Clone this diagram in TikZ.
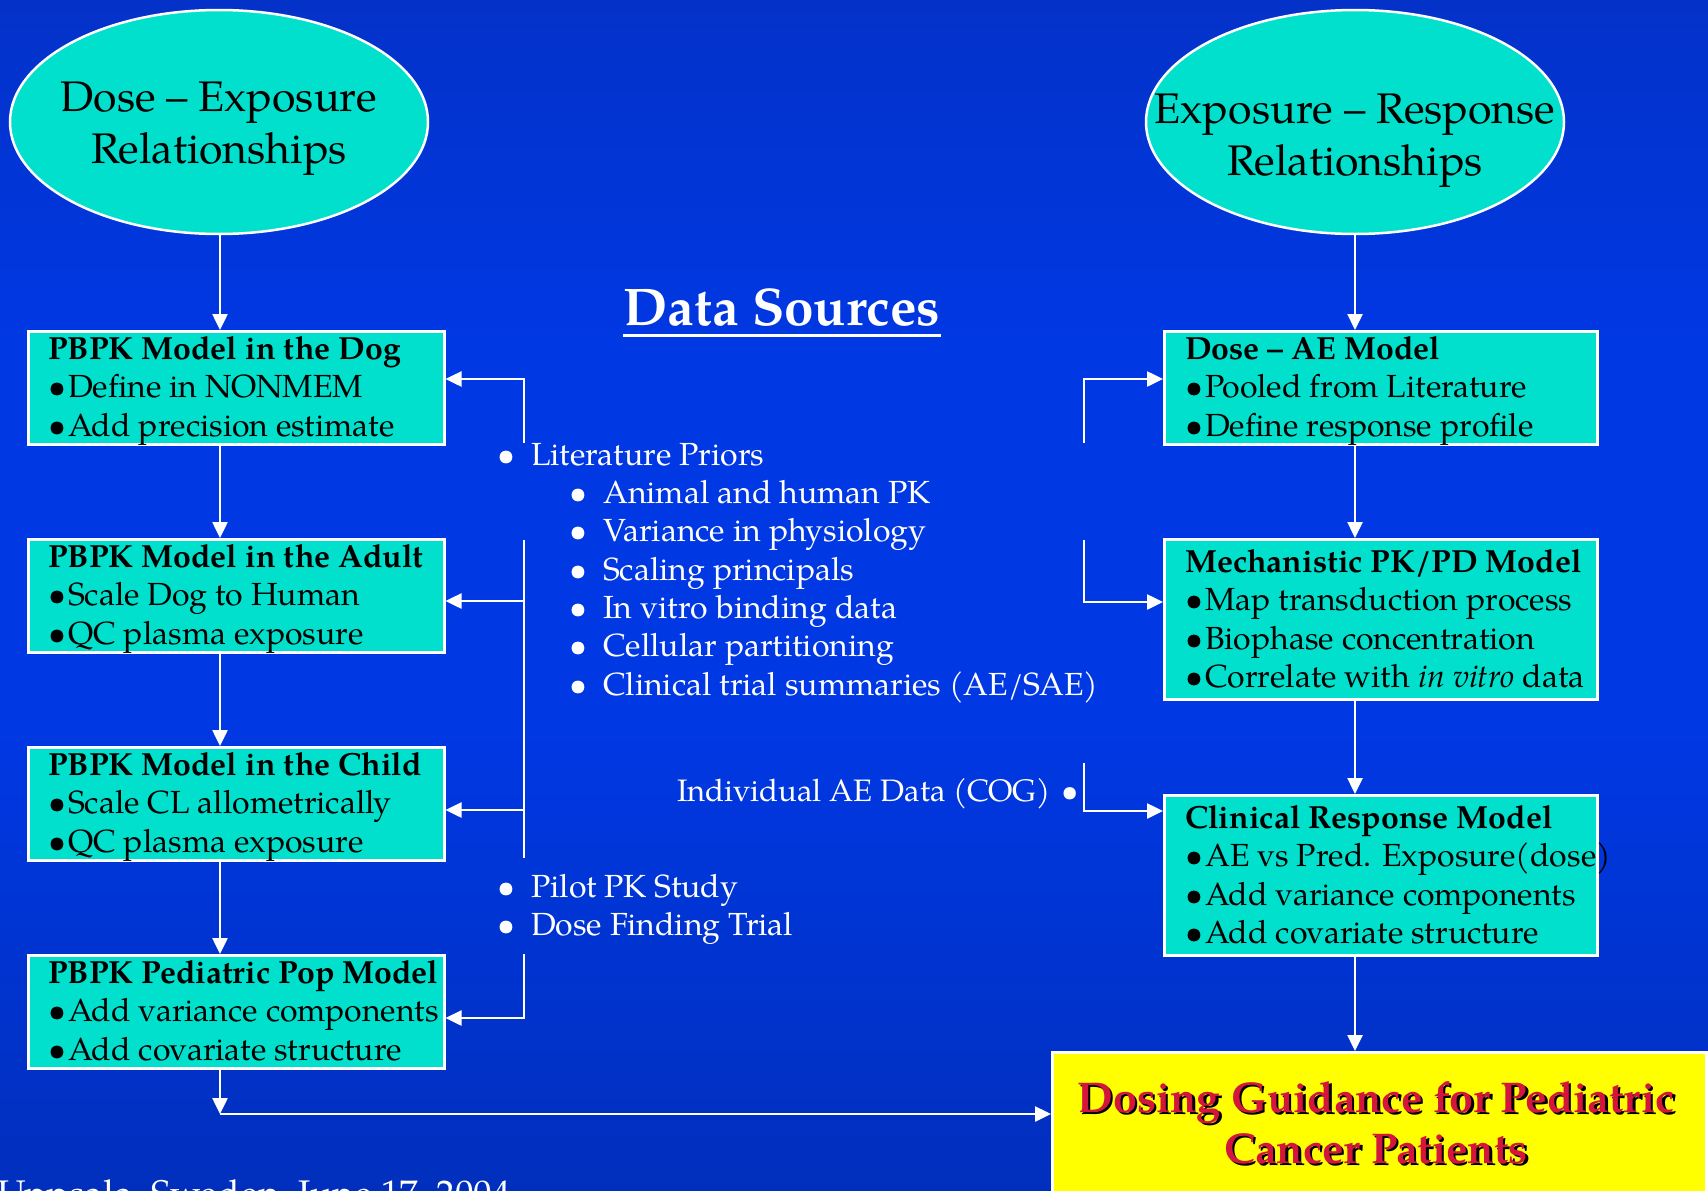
\documentclass[tikz,border=0pt]{standalone}
\usepackage{fontspec}
\setmainfont{texgyrepagella}[Extension=.otf,UprightFont=*-regular,BoldFont=*-bold,ItalicFont=*-italic,BoldItalicFont=*-bolditalic]
\usetikzlibrary{shapes.geometric,arrows.meta}
\definecolor{cyanfill}{RGB}{0,224,204}
\definecolor{bgtop}{RGB}{10,40,155}
\definecolor{bgmid}{RGB}{0,56,228}
\definecolor{bgbot}{RGB}{2,36,140}
\definecolor{goalred}{RGB}{212,22,60}
\definecolor{goalyellow}{RGB}{255,255,0}
\pgfdeclareverticalshading{bgshade}{100bp}{color(0bp)=(bgbot); color(45bp)=(bgmid); color(60bp)=(bgmid); color(100bp)=(bgtop)}
\newcommand\fl{\rule{0pt}{27pt}}
\newcommand\flbig{\rule{0pt}{31pt}}
\newcommand\bl[1]{\makebox[34pt][l]{\textbullet}#1}
\newcommand\bx{\textbullet\hspace{2pt}}
\begin{document}
\begin{tikzpicture}[x=1pt,y=-1pt,
  ell/.style={ellipse, draw=white, line width=2.5pt, fill=cyanfill, inner sep=0pt},
  elltxt/.style={anchor=north, inner sep=0pt, align=center, font=\fontsize{42.8}{52}\selectfont, text=black},
  cybox/.style={draw=white, line width=2.5pt, fill=cyanfill, inner sep=0pt, anchor=north west},
  boxtxt/.style={anchor=north west, inner sep=0pt, align=left, font=\fontsize{32}{38.5}\selectfont, text=black},
  listtxt/.style={anchor=north west, inner sep=0pt, align=left, font=\fontsize{32}{38.3}\selectfont, text=white},
  goaltxt/.style={anchor=north, inner sep=0pt, align=center, font=\fontsize{43}{51}\selectfont\bfseries},
  conn/.style={draw=white, line width=2.5pt, -{Triangle[length=16pt,width=15pt]}},
  plainline/.style={draw=white, line width=2.5pt}
]
\useasboundingbox (0,0) rectangle (1708,1191);
\shade[shading=bgshade] (0,0) rectangle (1708,1191);

% ellipses
\node[ell, minimum width=418pt, minimum height=224pt] (ellL) at (219,122) {};
\node[elltxt] (ellLt) at (219,80) {\flbig Dose – Exposure\\Relationships};
\node[ell, minimum width=418pt, minimum height=224pt] (ellR) at (1355,122) {};
\node[elltxt] (ellRt) at (1355,92) {\flbig Exposure – Response\\Relationships};

% left boxes
\node[cybox, minimum width=416pt, minimum height=113pt] (dog) at (27,330) {};
\node[boxtxt] (dogt) at (48,332) {\fl\textbf{PBPK Model in the Dog}\\\bx Define in NONMEM\\\bx Add precision estimate};
\node[cybox, minimum width=416pt, minimum height=113pt] (adult) at (27,538) {};
\node[boxtxt] (adultt) at (48,540) {\fl\textbf{PBPK Model in the Adult}\\\bx Scale Dog to Human\\\bx QC plasma exposure};
\node[cybox, minimum width=416pt, minimum height=113pt] (child) at (27,746) {};
\node[boxtxt] (childt) at (48,748) {\fl\textbf{PBPK Model in the Child}\\\bx Scale CL allometrically\\\bx QC plasma exposure};
\node[cybox, minimum width=416pt, minimum height=113pt] (pop) at (27,954) {};
\node[boxtxt] (popt) at (48,956) {\fl\textbf{PBPK Pediatric Pop Model}\\\bx Add variance components\\\bx Add covariate structure};

% right boxes
\node[cybox, minimum width=433pt, minimum height=113pt] (ae) at (1163,330) {};
\node[boxtxt] (aet) at (1185,332) {\fl\textbf{Dose – AE Model}\\\bx Pooled from Literature\\\bx Define response profile};
\node[cybox, minimum width=433pt, minimum height=160pt] (mech) at (1163,538) {};
\node[boxtxt] (mecht) at (1185,545) {\fl\textbf{Mechanistic PK/PD Model}\\\bx Map transduction process\\\bx Biophase concentration\\\bx Correlate with \textit{in vitro} data};
\node[cybox, minimum width=433pt, minimum height=160pt] (clin) at (1163,794) {};
\node[boxtxt] (clint) at (1185,801) {\fl\textbf{Clinical Response Model}\\\bx AE vs Pred. Exposure(dose)\\\bx Add variance components\\\bx Add covariate structure};

% goal box
\node[draw=white, line width=2.5pt, fill=goalyellow, anchor=north west, minimum width=654pt, minimum height=200pt, inner sep=0pt] (goal) at (1051,1051) {};
\node[goaltxt, text=black] (goalsh) at (1378.5,1083.5) {\flbig Dosing Guidance for Pediatric\\Cancer Patients};
\node[goaltxt, text=goalred] (goalt) at (1376,1081) {\flbig Dosing Guidance for Pediatric\\Cancer Patients};

% data sources
\node[anchor=base, inner sep=0pt, font=\fontsize{53}{58}\selectfont\bfseries, text=white] (ds) at (782,325) {Data Sources};
\draw[white, line width=3pt] ([yshift=-10pt]ds.base west) -- ([yshift=-10pt]ds.base east);

\node[listtxt] (lit) at (497,438) {\fl\bl{Literature Priors}\\
\hspace*{72pt}\bl{Animal and human PK}\\
\hspace*{72pt}\bl{Variance in physiology}\\
\hspace*{72pt}\bl{Scaling principals}\\
\hspace*{72pt}\bl{In vitro binding data}\\
\hspace*{72pt}\bl{Cellular partitioning}\\
\hspace*{72pt}\bl{Clinical trial summaries (AE/SAE)}};
\node[listtxt] (pilot) at (497,870) {\fl\bl{Pilot PK Study}\\\bl{Dose Finding Trial}};
\node[anchor=base east, inner sep=0pt, font=\fontsize{31}{38}\selectfont, text=white] (indiv) at (1079,801) {Individual AE Data (COG)\hspace{11pt}\textbullet};

% footer
\node[anchor=base west, inner sep=0pt, font=\fontsize{37}{42}\selectfont, text=white] (foot) at (-3,1206) {Uppsala, Sweden, June 17, 2004};

% main flow
\coordinate (colL) at (220,0);
\coordinate (colR) at (1355,0);
\draw[conn] (colL |- ellL.south) -- (colL |- dog.north);
\draw[conn] (colL |- dog.south) -- (colL |- adult.north);
\draw[conn] (colL |- adult.south) -- (colL |- child.north);
\draw[conn] (colL |- child.south) -- (colL |- pop.north);
\coordinate (turn) at (220,1114);
\draw[conn] (colL |- pop.south) -- (turn);
\draw[conn] (turn) -- (turn -| goal.west);
\draw[conn] (colR |- ellR.south) -- (colR |- ae.north);
\draw[conn] (colR |- ae.south) -- (colR |- mech.north);
\draw[conn] (colR |- mech.south) -- (colR |- clin.north);
\draw[conn] (colR |- clin.south) -- (colR |- goal.north);

% left brackets
\coordinate (lb1s) at (524,443); \coordinate (lb1c) at (524,379);
\draw[conn] (lb1s) -- (lb1c) -- (dog.east |- lb1c);
\coordinate (lb2t) at (524,540); \coordinate (lb2b) at (524,858);
\draw[plainline] (lb2t) -- (lb2b);
\coordinate (la2) at (524,601); \coordinate (la3) at (524,810);
\draw[conn] (la2) -- (adult.east |- la2);
\draw[conn] (la3) -- (child.east |- la3);
\coordinate (lb3s) at (524,954); \coordinate (lb3c) at (524,1018);
\draw[conn] (lb3s) -- (lb3c) -- (pop.east |- lb3c);

% right brackets
\coordinate (rb1s) at (1084,443); \coordinate (rb1c) at (1084,379);
\draw[conn] (rb1s) -- (rb1c) -- (ae.west |- rb1c);
\coordinate (rb2s) at (1084,540); \coordinate (rb2c) at (1084,602);
\draw[conn] (rb2s) -- (rb2c) -- (mech.west |- rb2c);
\coordinate (rb3s) at (1084,763); \coordinate (rb3c) at (1084,811);
\draw[conn] (rb3s) -- (rb3c) -- (clin.west |- rb3c);
\end{tikzpicture}
\end{document}
